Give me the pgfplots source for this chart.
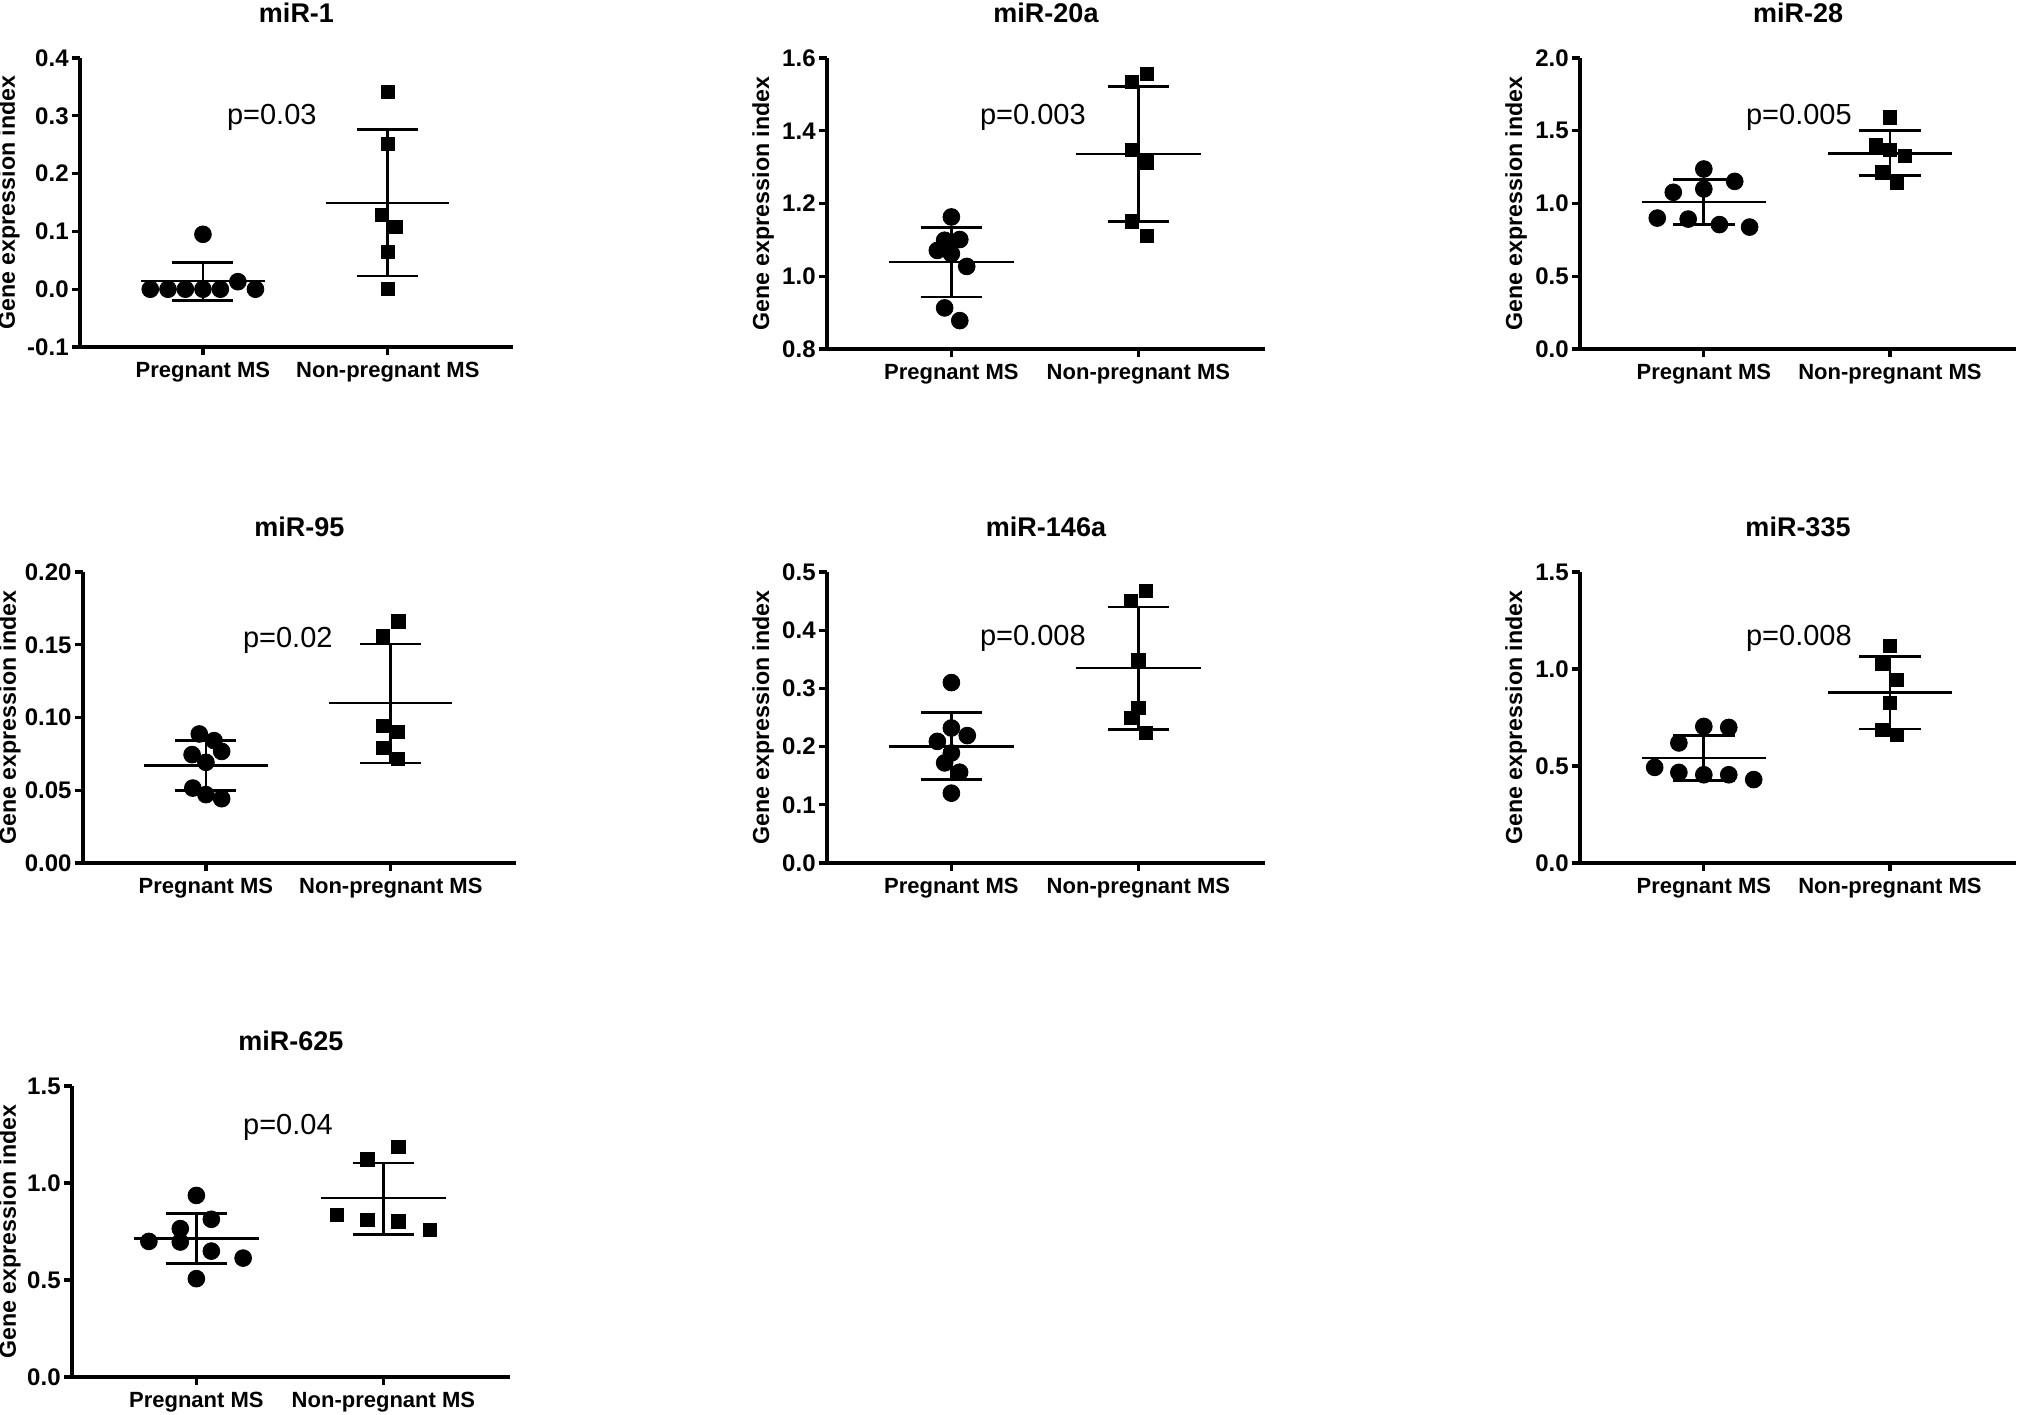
\documentclass[border=0pt]{standalone}
\usepackage{fontspec}
\setmainfont{Liberation Sans}
\usepackage{pgfplots}
\pgfplotsset{compat=1.18}

\pgfplotsset{
  panel/.style={
    scale only axis,
    anchor=south west,
    axis lines*=left,
    axis line style={line width=1.6pt, black},
    clip=false,
    xmin=0.335, xmax=2.677,
    xtick={1,2},
    xticklabels={Pregnant MS, Non-pregnant MS},
    tick align=outside,
    major tick length=4pt,
    tick style={line width=1.6pt, black},
    xticklabel style={font=\bfseries\fontsize{11}{11}\selectfont},
    yticklabel style={font=\bfseries\fontsize{12}{12}\selectfont, inner sep=1.5pt},
    ylabel={Gene expression index},
    ylabel style={font=\bfseries\fontsize{11.6}{11.6}\selectfont,
      at={(axis description cs:0,0.5)}, anchor=center, yshift=32pt},
    title style={at={(axis description cs:0.5,1)}, anchor=center,
      yshift=16.5pt, font=\bfseries\fontsize{13.5}{13.5}\selectfont},
  },
  sdline/.style={black, line width=1.35pt, mark=none},
  circ/.style={only marks, mark=*, mark size=4.2pt, black, mark options={fill=black}},
  sq/.style={only marks, mark=square*, mark size=3.3pt, black, mark options={fill=black}},
}
\tikzset{pval/.style={font=\fontsize{14.5}{14.5}\selectfont}}

\newcommand{\msdA}[3]{%
  \addplot[sdline] coordinates {(0.667,#1) (1.333,#1)};
  \addplot[sdline] coordinates {(1,#2) (1,#3)};
  \addplot[sdline] coordinates {(0.835,#2) (1.165,#2)};
  \addplot[sdline] coordinates {(0.835,#3) (1.165,#3)};
}
\newcommand{\msdB}[3]{%
  \addplot[sdline] coordinates {(1.667,#1) (2.333,#1)};
  \addplot[sdline] coordinates {(2,#2) (2,#3)};
  \addplot[sdline] coordinates {(1.835,#2) (2.165,#2)};
  \addplot[sdline] coordinates {(1.835,#3) (2.165,#3)};
}

\begin{document}
\begin{tikzpicture}
\useasboundingbox (0,0) rectangle (1009pt,-707pt);

% ---------- miR-1 ----------
\begin{axis}[panel, at={(40pt,-173.5pt)}, width=216.5pt, height=144.5pt,
  title={miR-1}, ymin=-0.1, ymax=0.4,
  ytick={-0.1,0,0.1,0.2,0.3,0.4}, yticklabels={-0.1,0.0,0.1,0.2,0.3,0.4},
  ylabel style={yshift=3.5pt}]
  \msdA{0.014}{-0.019}{0.046}
  \msdB{0.149}{0.023}{0.276}
  \addplot[circ] coordinates {(0.715,0) (0.811,0) (0.905,0) (1,0) (1.094,0) (1.189,0.013) (1.284,0) (1,0.095)};
  \addplot[sq] coordinates {(2,0.341) (2,0.251) (1.968,0.128) (2.041,0.108) (2,0.064) (2,0.0)};
  \node[pval] at (rel axis cs:0.443,0.796) {p=0.03};
\end{axis}

% ---------- miR-20a ----------
\begin{axis}[panel, at={(413.5pt,-174.5pt)}, width=219pt, height=145.5pt,
  title={miR-20a}, ymin=0.8, ymax=1.6,
  ytick={0.8,1.0,1.2,1.4,1.6}, yticklabels={0.8,1.0,1.2,1.4,1.6}]
  \msdA{1.039}{0.943}{1.135}
  \msdB{1.336}{1.151}{1.522}
  \addplot[circ] coordinates {(1,1.163) (0.964,1.099) (1.045,1.101) (0.925,1.071) (1,1.062) (1.082,1.027) (0.964,0.913) (1.045,0.878)};
  \addplot[sq] coordinates {(1.966,1.534) (2.045,1.557) (1.966,1.348) (2.045,1.313) (1.966,1.151) (2.045,1.112)};
  \node[pval] at (rel axis cs:0.47,0.797) {p=0.003};
\end{axis}

% ---------- miR-28 ----------
\begin{axis}[panel, at={(790pt,-174.5pt)}, width=218pt, height=145.5pt,
  title={miR-28}, ymin=0, ymax=2.0,
  ytick={0,0.5,1.0,1.5,2.0}, yticklabels={0.0,0.5,1.0,1.5,2.0}]
  \msdA{1.010}{0.855}{1.164}
  \msdB{1.342}{1.191}{1.500}
  \addplot[circ] coordinates {(1,1.237) (1.166,1.152) (0.836,1.077) (1,1.100) (0.75,0.900) (0.916,0.893) (1.084,0.855) (1.246,0.838)};
  \addplot[sq] coordinates {(2,1.592) (1.923,1.400) (2,1.370) (2.080,1.329) (1.959,1.214) (2.039,1.145)};
  \node[pval] at (rel axis cs:0.502,0.797) {p=0.005};
\end{axis}

% ---------- miR-95 ----------
\begin{axis}[panel, at={(41.5pt,-431.5pt)}, width=216.5pt, height=145.5pt,
  title={miR-95}, ymin=0, ymax=0.2,
  ytick={0,0.05,0.10,0.15,0.20}, yticklabels={0.00,0.05,0.10,0.15,0.20},
  ylabel style={yshift=4.5pt}]
  \msdA{0.0669}{0.0499}{0.0843}
  \msdB{0.1100}{0.0687}{0.1505}
  \addplot[circ] coordinates {(0.964,0.0887) (1.044,0.0841) (0.925,0.0745) (1.085,0.0767) (1,0.0692) (0.929,0.0515) (1,0.0470) (1.085,0.0442)};
  \addplot[sq] coordinates {(2.041,0.1661) (1.959,0.1562) (1.959,0.0944) (2.039,0.0900) (1.959,0.0790) (2.039,0.0715)};
  \node[pval] at (rel axis cs:0.473,0.766) {p=0.02};
\end{axis}

% ---------- miR-146a ----------
\begin{axis}[panel, at={(413.5pt,-431.5pt)}, width=219pt, height=145.5pt,
  title={miR-146a}, ymin=0, ymax=0.5,
  ytick={0,0.1,0.2,0.3,0.4,0.5}, yticklabels={0.0,0.1,0.2,0.3,0.4,0.5}]
  \msdA{0.200}{0.144}{0.259}
  \msdB{0.335}{0.230}{0.440}
  \addplot[circ] coordinates {(1,0.310) (1,0.232) (0.925,0.209) (1.085,0.219) (1,0.189) (0.964,0.172) (1.044,0.156) (1,0.120)};
  \addplot[sq] coordinates {(2.039,0.468) (1.961,0.450) (2,0.349) (2,0.266) (1.961,0.249) (2.039,0.223)};
  \node[pval] at (rel axis cs:0.47,0.773) {p=0.008};
\end{axis}

% ---------- miR-335 ----------
\begin{axis}[panel, at={(790pt,-431.5pt)}, width=218pt, height=145.5pt,
  title={miR-335}, ymin=0, ymax=1.5,
  ytick={0,0.5,1.0,1.5}, yticklabels={0.0,0.5,1.0,1.5}]
  \msdA{0.541}{0.424}{0.658}
  \msdB{0.880}{0.691}{1.065}
  \addplot[circ] coordinates {(1,0.704) (1.134,0.699) (0.866,0.619) (0.736,0.493) (0.866,0.467) (1,0.455) (1.134,0.455) (1.268,0.430)};
  \addplot[sq] coordinates {(2,1.120) (1.959,1.027) (2.039,0.945) (2,0.825) (1.959,0.687) (2.039,0.662)};
  \node[pval] at (rel axis cs:0.502,0.773) {p=0.008};
\end{axis}

% ---------- miR-625 ----------
\begin{axis}[panel, at={(36pt,-688.5pt)}, width=219pt, height=145.5pt,
  title={miR-625}, ymin=0, ymax=1.5,
  ytick={0,0.5,1.0,1.5}, yticklabels={0.0,0.5,1.0,1.5},
  ylabel style={yshift=-1pt}]
  \msdA{0.713}{0.584}{0.842}
  \msdB{0.923}{0.735}{1.103}
  \addplot[circ] coordinates {(1,0.936) (1.080,0.813) (0.914,0.765) (0.746,0.699) (0.914,0.696) (1.080,0.649) (1.25,0.613) (1,0.507)};
  \addplot[sq] coordinates {(2.080,1.186) (1.914,1.122) (1.75,0.837) (1.914,0.808) (2.080,0.802) (2.25,0.759)};
  \node[pval] at (rel axis cs:0.493,0.859) {p=0.04};
\end{axis}

\end{tikzpicture}
\end{document}
